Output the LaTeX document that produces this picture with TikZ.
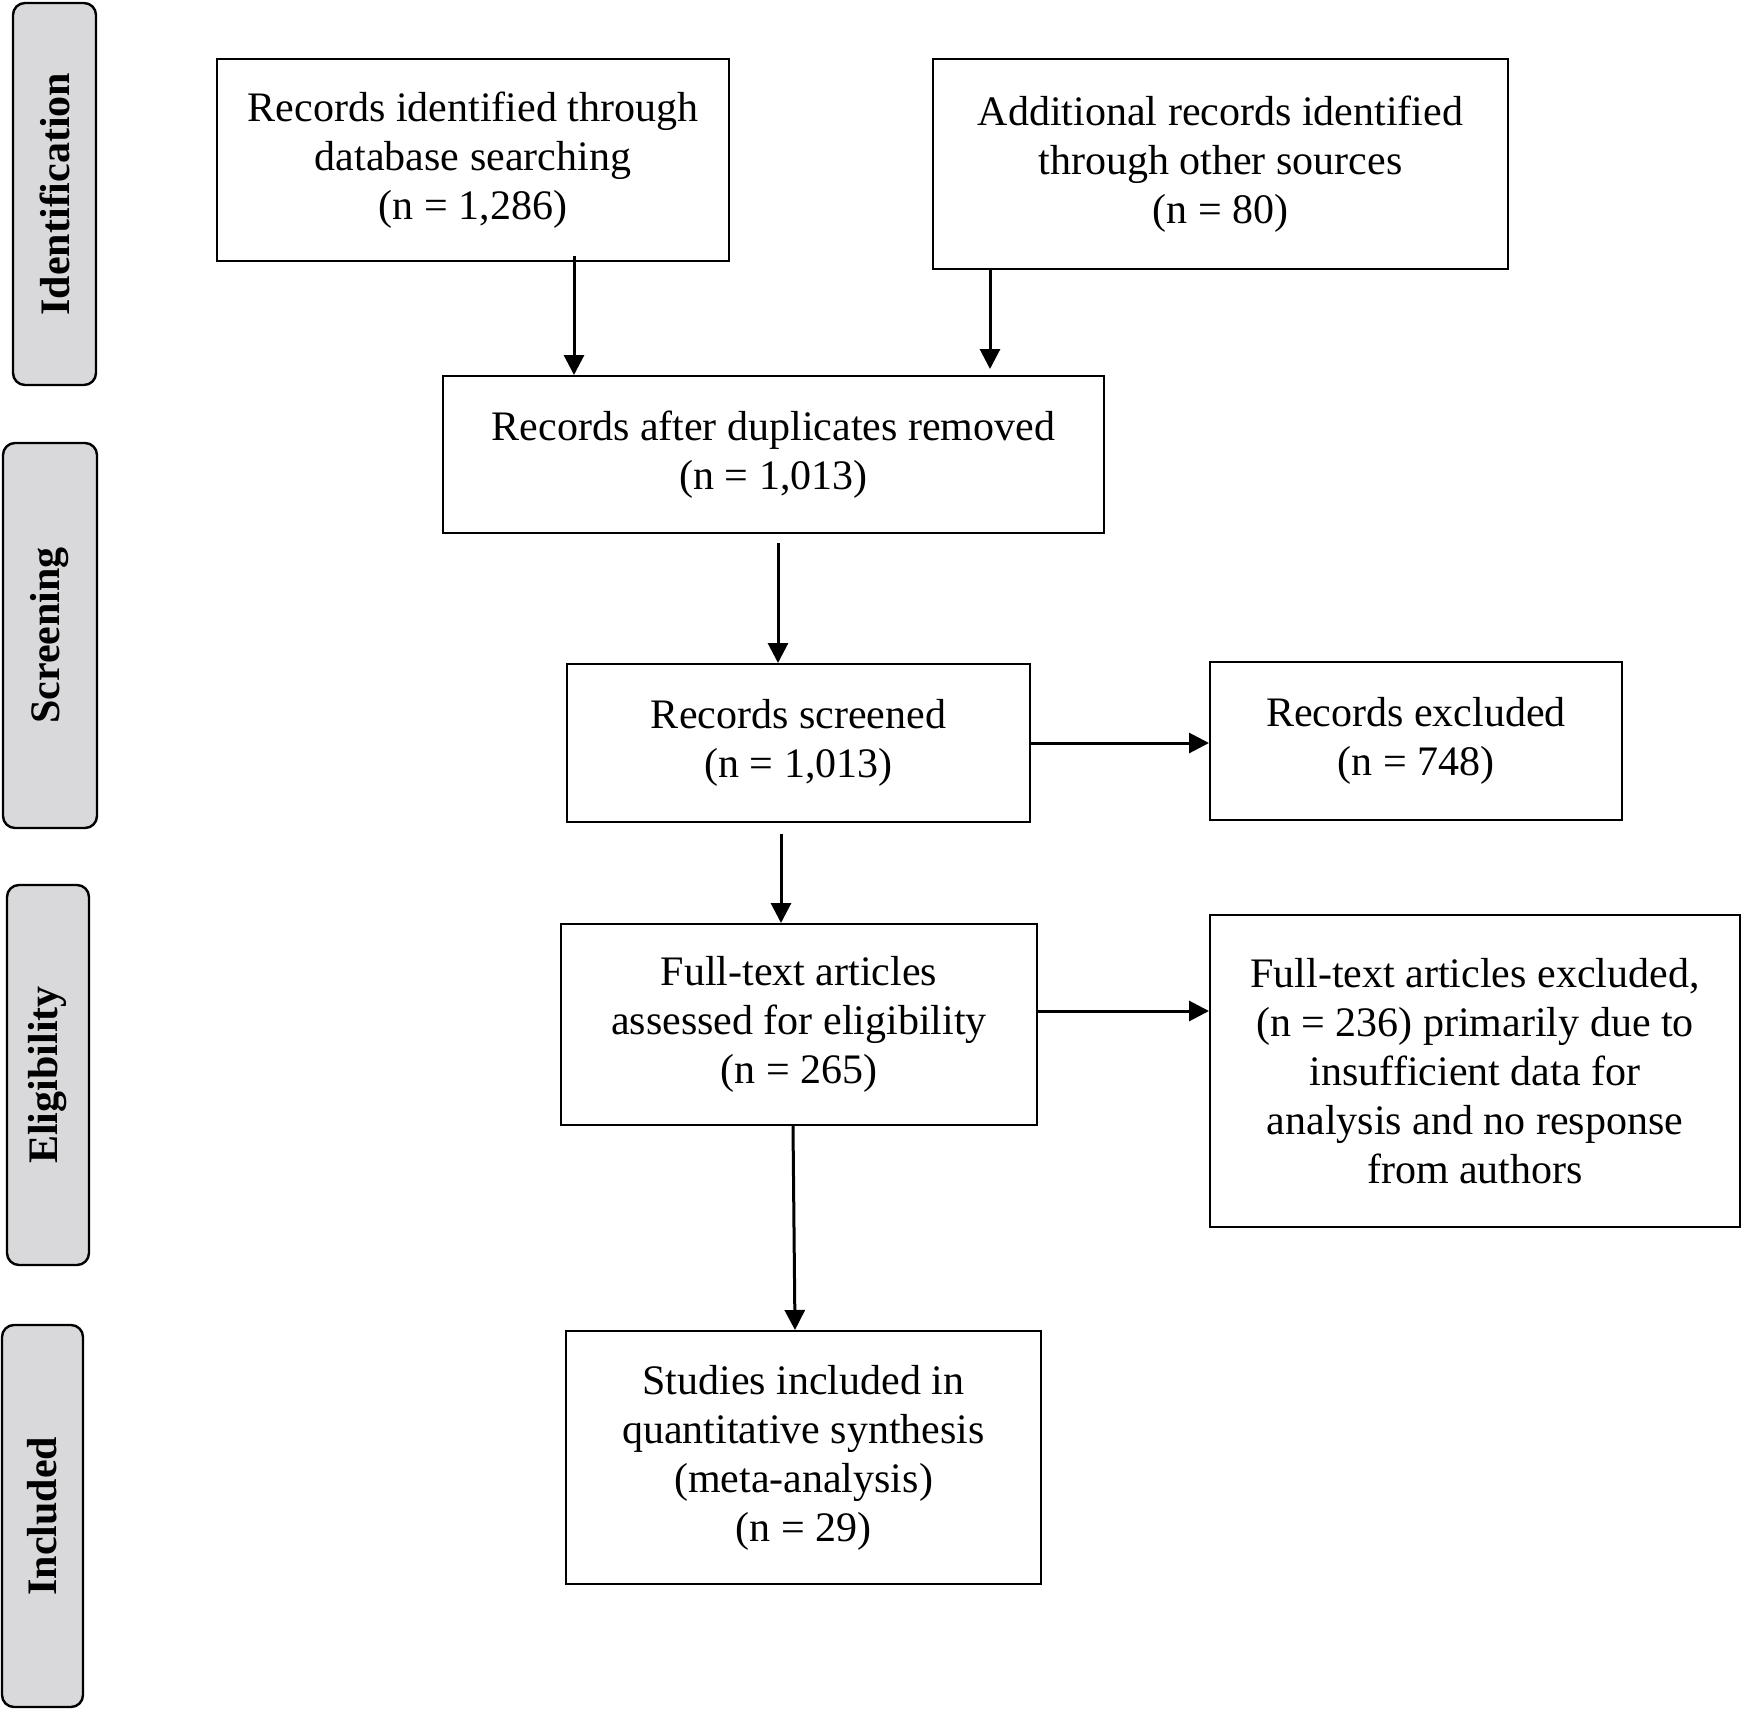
\documentclass[tikz,border=0pt]{standalone}
\usepackage{fontspec}
\setmainfont{Liberation Serif}
\usetikzlibrary{arrows.meta}
\definecolor{sidegray}{RGB}{217,216,218}
\begin{document}
\begin{tikzpicture}[x=0.5pt,y=-0.5pt,
  box/.style={draw=black,line width=1pt,fill=white,align=center,inner sep=0pt,
    font=\fontsize{21}{24.5}\selectfont},
  side/.style={draw=black,line width=1.2pt,fill=sidegray,rounded corners=6pt,rotate=90,
    inner sep=0pt,font=\fontsize{21}{24.5}\selectfont\bfseries},
  arr/.style={line width=1.5pt,-{Triangle[length=10pt,width=10pt]}}]
\useasboundingbox (0,0) rectangle (1742,1709);

% side phase labels
\node[side,minimum width=191pt,minimum height=41.5pt] (s1) at (54.5,194) {Identification};
\node[side,minimum width=192.5pt,minimum height=47pt] (s2) at (50,635.5) {Screening};
\node[side,minimum width=190pt,minimum height=41pt] (s3) at (48,1075) {Eligibility};
\node[side,minimum width=191pt,minimum height=40.5pt] (s4) at (42.5,1516) {Included};

% main boxes
\node[box,minimum width=256pt,minimum height=101pt] (n1) at (473,160)
  {Records identified through\\database searching\\(n = 1,286)};
\node[box,minimum width=287.5pt,minimum height=105pt] (n2) at (1220.5,164)
  {Additional records identified\\through other sources\\(n = 80)};
\node[box,minimum width=330.5pt,minimum height=78.5pt] (n3) at (773.5,454.5)
  {Records after duplicates removed\\(n = 1,013)};
\node[box,minimum width=231.5pt,minimum height=79pt] (n4) at (798.5,743)
  {Records screened\\(n = 1,013)};
\node[box,minimum width=206pt,minimum height=79pt] (n5) at (1416,741)
  {Records excluded\\(n = 748)};
\node[box,minimum width=238pt,minimum height=100.5pt] (n6) at (799,1024.5)
  {Full-text articles\\assessed for eligibility\\(n = 265)};
\node[box,minimum width=265pt,minimum height=156pt] (n7) at (1475,1071)
  {Full-text articles excluded,\\(n = 236) primarily due to\\insufficient data for\\analysis and no response\\from authors};
\node[box,minimum width=237.5pt,minimum height=126.5pt] (n8) at (803.5,1457.5)
  {Studies included in\\quantitative synthesis\\(meta-analysis)\\(n = 29)};

% connector guide coordinates
\coordinate (a1) at (574,0);
\coordinate (a2) at (990,0);
\coordinate (a3) at (778,0);
\coordinate (a4) at (781,0);
\coordinate (a5) at (793,0);
\coordinate (a5b) at (795,0);
\coordinate (h6) at (0,1011);

% connectors
\draw[arr] ([yshift=3pt]n1.south -| a1) -- (n3.north -| a1);
\draw[arr] (n2.south -| a2) -- ([yshift=3pt]n3.north -| a2);
\draw[arr] ([yshift=-4.5pt]n3.south -| a3) -- (n4.north -| a3);
\draw[arr] ([yshift=-5.5pt]n4.south -| a4) -- (n6.north -| a4);
\draw[arr] (n6.south -| a5) -- (n8.north -| a5b);
\draw[arr] (n4.east) -- (n4.east -| n5.west);
\draw[arr] (n6.east |- h6) -- (n7.west |- h6);
\end{tikzpicture}
\end{document}
